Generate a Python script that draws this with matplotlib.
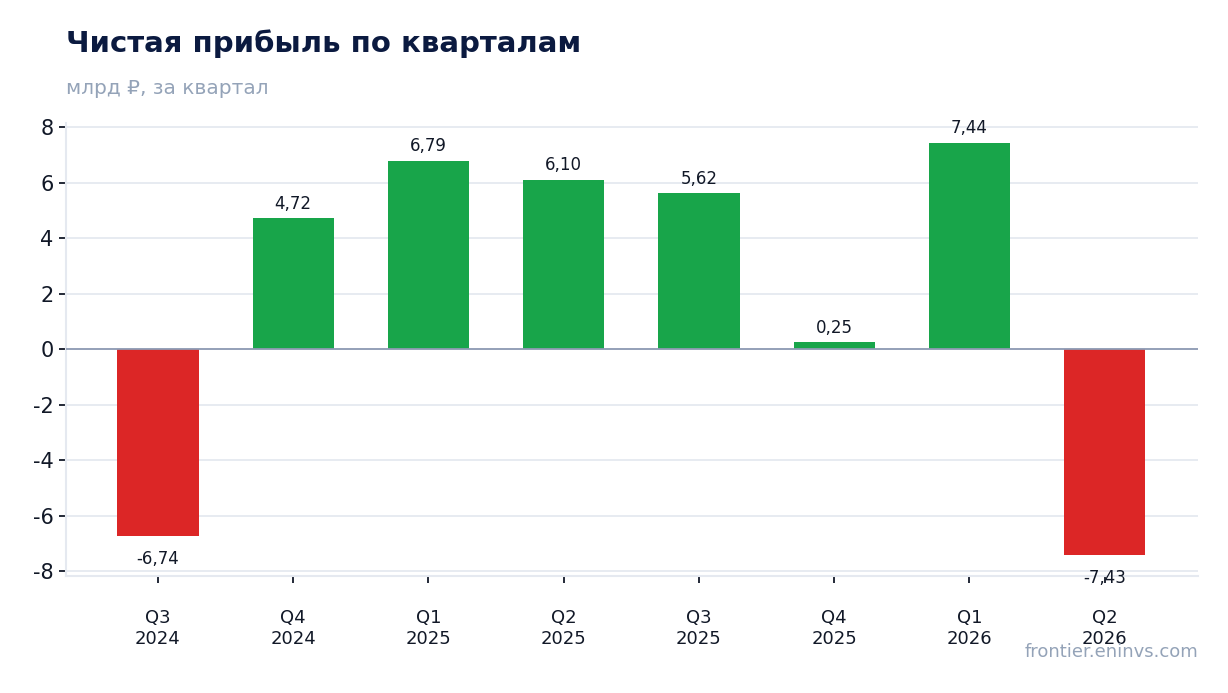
import numpy as np
import matplotlib
matplotlib.use('Agg')
import matplotlib.pyplot as plt

plt.rcParams['font.family'] = ['DejaVu Sans', 'Noto Sans']

# данные
quarters = ['Q3\n2024', 'Q4\n2024', 'Q1\n2025', 'Q2\n2025', 'Q3\n2025', 'Q4\n2025', 'Q1\n2026', 'Q2\n2026']
profit = [-6.74, 4.72, 6.79, 6.10, 5.62, 0.25, 7.44, -7.43]
y_ticks = [-8, -6, -4, -2, 0, 2, 4, 6, 8]

green = '#18a54a'
red = '#dc2626'
dark = '#111827'
grid_c = '#e5e9f0'

fig = plt.figure(figsize=(12.28, 6.93), dpi=100)
ax = fig.add_axes([66 / 1228, (693 - 576) / 693, (1198 - 66) / 1228, (576 - 123) / 693])

x = np.arange(len(profit))
colors = [green if v >= 0 else red for v in profit]
ax.bar(x, profit, width=0.6, color=colors, zorder=3)

for xi, v in zip(x, profit):
    txt = ('%.2f' % v).replace('.', ',')
    if v >= 0:
        ax.annotate(txt, (xi, v), xytext=(0, 4), textcoords='offset points',
                    ha='center', va='bottom', fontsize=12, color=dark, zorder=4)
    else:
        ax.annotate(txt, (xi, v), xytext=(0, -10), textcoords='offset points',
                    ha='center', va='top', fontsize=12, color=dark, zorder=4)

ax.axhline(0, color='#8e9bb3', lw=1.3, zorder=4)

ax.set_ylim(-8.18, 8.15)
ax.set_xlim(-0.68, 7.69)
ax.set_yticks(y_ticks)
ax.set_yticklabels([str(t) for t in y_ticks])
ax.set_xticks(x)
ax.set_xticklabels(quarters)
ax.grid(axis='y', color=grid_c, lw=1.3, zorder=0)
ax.set_axisbelow(True)

for s in ['top', 'right']:
    ax.spines[s].set_visible(False)
for s in ['left', 'bottom']:
    ax.spines[s].set_color(grid_c)
    ax.spines[s].set_linewidth(1.5)

ax.tick_params(axis='y', labelsize=15, colors=dark, length=5, width=1.3, pad=4)
ax.tick_params(axis='x', labelsize=13, colors=dark, length=5, width=1.3, pad=19)

fig.text(66 / 1228, 1 - 44 / 693, 'Чистая прибыль по кварталам', fontsize=21,
         fontweight='bold', color='#0b1a40', ha='left', va='center')
fig.text(66 / 1228, 1 - 88 / 693, 'млрд ₽, за квартал', fontsize=14.5,
         color='#94a3b8', ha='left', va='center')
fig.text(1198 / 1228, 1 - 652 / 693, 'frontier.eninvs.com', fontsize=13,
         color='#94a3b8', ha='right', va='center')

fig.savefig('out.png', dpi=100)
